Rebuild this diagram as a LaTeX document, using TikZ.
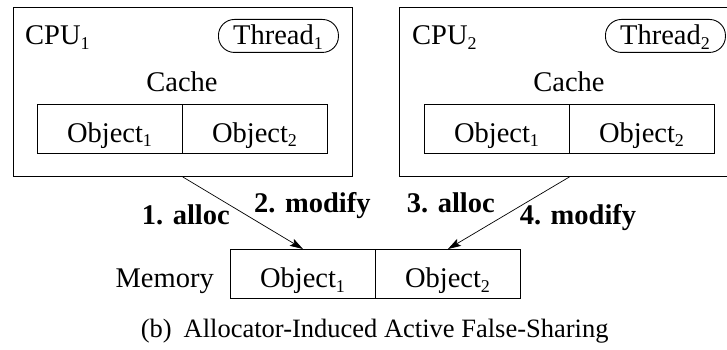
\documentclass[tikz,border=0pt]{standalone}
\usepackage{fontspec}
\setmainfont{Liberation Serif}
\usetikzlibrary{arrows.meta}
\newcommand{\sub}[1]{\raisebox{-5pt}{\fontsize{18}{18}\selectfont #1}}
\tikzset{
  box/.style={draw=black, line width=0.9pt, inner sep=0pt, anchor=north west},
  cell/.style={draw=black, line width=0.9pt, inner sep=0pt, anchor=north west,
    minimum width=145pt, minimum height=49pt},
  txt/.style={inner sep=0pt, font=\fontsize{28.5}{32}\selectfont},
  lbl/.style={inner sep=0pt, font=\fontsize{28.5}{32}\selectfont\bfseries, anchor=base west},
  oval/.style={draw=black, line width=0.9pt, rounded corners=16pt, inner sep=0pt,
    minimum width=120pt, minimum height=33pt, anchor=north west},
  arr/.style={line width=0.7pt, -{Stealth[length=13pt,width=8pt,inset=2.5pt]}}
}
\begin{document}
\begin{tikzpicture}[x=1pt,y=-1pt]
\useasboundingbox (0,0) rectangle (727,350);
\clip (0,0) rectangle (727,350);

% first processor with its thread and cache line
\node[box, minimum width=339.5pt, minimum height=169pt] (cpuA) at (12.5,7) {};
\node[txt, anchor=base west] (cpuAl) at (25,45) {CPU\sub{1}};
\node[oval] (thrA) at (218,19) {};
\node[txt, anchor=base] (thrAl) at (278,45) {Thread\sub{1}};
\node[txt, anchor=base] (cacheA) at (182,92) {Cache};
\node[cell] (caA1) at (37,104) {};
\node[cell] (caA2) at (182,104) {};
\node[txt, anchor=base] at (109.5,142) {Object\sub{1}};
\node[txt, anchor=base] at (254.5,142) {Object\sub{2}};

% second processor with its thread and cache line
\node[box, minimum width=340pt, minimum height=169pt] (cpuB) at (399,7) {};
\node[txt, anchor=base west] (cpuBl) at (412,45) {CPU\sub{2}};
\node[oval] (thrB) at (605,19) {};
\node[txt, anchor=base] (thrBl) at (665,45) {Thread\sub{2}};
\node[txt, anchor=base] (cacheB) at (569,92) {Cache};
\node[cell] (caB1) at (424,104) {};
\node[cell] (caB2) at (569,104) {};
\node[txt, anchor=base] at (496.5,142) {Object\sub{1}};
\node[txt, anchor=base] at (641.5,142) {Object\sub{2}};

% shared memory line
\node[cell] (memA) at (230,249) {};
\node[cell] (memB) at (375,249) {};
\node[txt, anchor=base] at (302.5,287.5) {Object\sub{1}};
\node[txt, anchor=base] at (447.5,287.5) {Object\sub{2}};
\node[txt, anchor=base east] (memlbl) at (214,287.5) {Memory};

% accesses from each processor
\draw[arr] (cpuA.south) -- (memA.north);
\draw[arr] (cpuB.south) -- (memB.north);
\node[lbl] (l1) at (141.7,224) {1. alloc};
\node[lbl] (l2) at (254,212) {2. modify};
\node[lbl] (l3) at (406.7,212) {3. alloc};
\node[lbl] (l4) at (519.6,224) {4. modify};

% caption
\node[inner sep=0pt, anchor=base, font=\fontsize{26.5}{30}\selectfont] (cap) at (374.7,337)
  {(b)\hspace{0.45em}Allocator-Induced Active False-Sharing};
\end{tikzpicture}
\end{document}
